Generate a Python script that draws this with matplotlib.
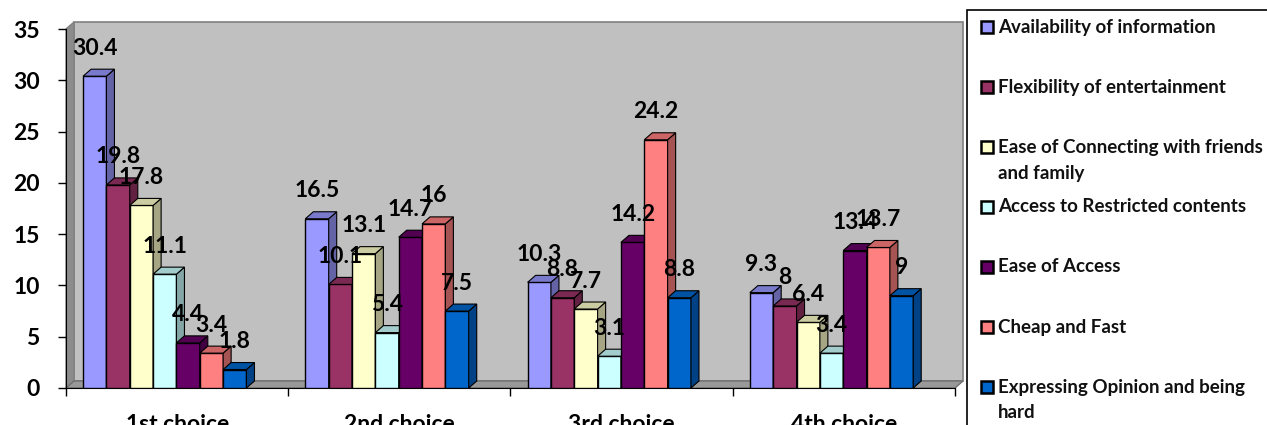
import numpy as np
import matplotlib
matplotlib.use("Agg")
import matplotlib.pyplot as plt
from matplotlib.patches import Polygon, Rectangle

plt.rcParams['font.family'] = ['Lato', 'DejaVu Sans']
plt.rcParams['font.weight'] = 'bold'

# percentages per reason, one value per choice rank
categories = ["1st choice", "2nd choice", "3rd choice", "4th choice"]
availability = [30.4, 16.5, 10.3, 9.3]
flexibility = [19.8, 10.1, 8.8, 8]
connecting = [17.8, 13.1, 7.7, 6.4]
restricted = [11.1, 5.4, 3.1, 3.4]
ease_access = [4.4, 14.7, 14.2, 13.4]
cheap_fast = [3.4, 16, 24.2, 13.7]
opinion = [1.8, 7.5, 8.8, 9]

series_names = ["Availability of information",
                "Flexibility of entertainment",
                "Ease of Connecting with friends\nand family",
                "Access to Restricted contents",
                "Ease of Access",
                "Cheap and Fast",
                "Expressing Opinion and being\nhard"]
series_vals = [availability, flexibility, connecting, restricted,
               ease_access, cheap_fast, opinion]
colors = ["#9999FF", "#993366", "#FFFFCC", "#CCFFFF", "#660066", "#FF8080", "#0066CC"]

W, H = 1267, 425
fig = plt.figure(figsize=(W / 100, H / 100), dpi=100)
# axes placed in pixel terms: x 66..955, y 29..388 from the top
ax = fig.add_axes([66 / W, (H - 388) / H, (955 - 66) / W, (388 - 29) / H])
ax.set_xlim(0, 4)
ax.set_ylim(0, 35)
ax.patch.set_visible(False)

# 3d depth offsets (pixels -> data units)
px_x = (955 - 66) / 4.0
px_y = (388 - 29) / 35.0
dx = 8 / px_x
dy = 7 / px_y

def shade(c, f):
    r, g, b = matplotlib.colors.to_rgb(c)
    return (r * f, g * f, b * f)

# walls and floor
wall = Polygon([(dx, dy), (4 + dx, dy), (4 + dx, 35 + dy), (dx, 35 + dy)],
               closed=True, fc="#C0C0C0", ec="#808080", lw=1.2, zorder=0.5, clip_on=False)
side = Polygon([(0, 0), (dx, dy), (dx, 35 + dy), (0, 35)],
               closed=True, fc="#8C8C8C", ec="#808080", lw=1, zorder=0.6, clip_on=False)
floor = Polygon([(0, 0), (4, 0), (4 + dx, dy), (dx, dy)],
                closed=True, fc="#999999", ec="#707070", lw=1, zorder=0.7, clip_on=False)
for p in (wall, side, floor):
    ax.add_patch(p)

bw = 0.105
group_left = 0.077
z = 2.0
for i in range(len(categories)):
    for j, vals in enumerate(series_vals):
        v = vals[i]
        x0 = i + group_left + j * bw
        x1 = x0 + bw
        ax.bar(x0, v, width=bw, align='edge', color=colors[j], edgecolor='black',
               linewidth=1, zorder=z)
        ax.add_patch(Polygon([(x1, 0), (x1 + dx, dy), (x1 + dx, v + dy), (x1, v)],
                             closed=True, fc=shade(colors[j], 0.65), ec='black',
                             lw=0.8, zorder=z + 0.001, clip_on=False))
        ax.add_patch(Polygon([(x0, v), (x1, v), (x1 + dx, v + dy), (x0 + dx, v + dy)],
                             closed=True, fc=shade(colors[j], 0.8), ec='black',
                             lw=0.8, zorder=z + 0.002, clip_on=False))
        z += 0.01
        ax.annotate(f"{v:g}", (x0 + bw / 2, v), xytext=(0, 28), textcoords='offset pixels',
                    ha='center', va='center', fontsize=16.5, zorder=20)

for s in ("top", "right"):
    ax.spines[s].set_visible(False)
ax.spines["left"].set_zorder(1)
ax.spines["bottom"].set_zorder(1)

ax.set_yticks(np.arange(0, 36, 5))
ax.tick_params(axis='y', length=6, width=1, pad=13, labelsize=16.5)
ax.set_xticks(np.arange(0, 5))
ax.set_xticklabels([])
ax.set_xticks(np.arange(len(categories)) + 0.5, minor=True)
ax.set_xticklabels(categories, minor=True)
ax.tick_params(axis='x', which='major', length=6, width=1)
ax.tick_params(axis='x', which='minor', length=0, pad=19, labelsize=16.5)

# legend panel on the right
fig.patches.append(Rectangle((967 / W, -0.1), 0.5, (H - 10) / H + 0.1, transform=fig.transFigure,
                             fc='white', ec='black', lw=1.2, zorder=0))
for k, (name, c) in enumerate(zip(series_names, colors)):
    yc = 27 + 60 * k
    fig.patches.append(Rectangle((981 / W, (H - yc - 6) / H), 12 / W, 12 / H,
                                 transform=fig.transFigure, fc=c, ec='black', lw=1.8, zorder=2))
    for m, line in enumerate(name.split("\n")):
        fig.text(998 / W, (H - yc - 26 * m) / H, line, ha='left', va='center',
                 fontsize=13.5, color='#111111')

fig.savefig("out.png", dpi=100)
